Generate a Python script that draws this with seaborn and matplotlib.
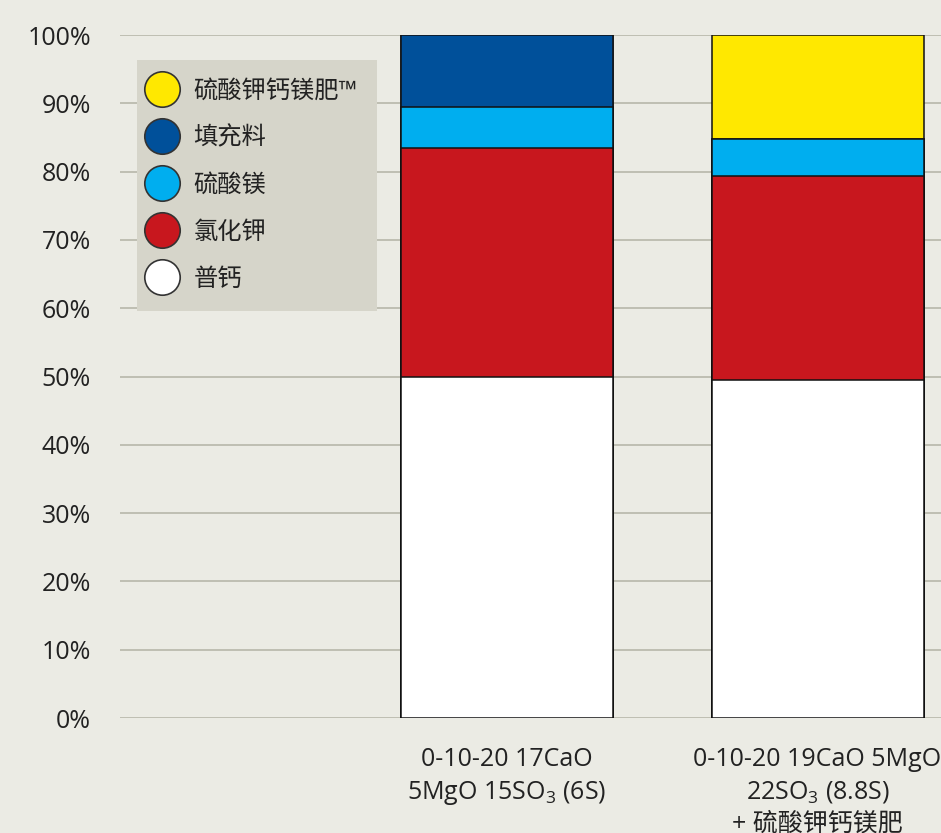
import matplotlib
matplotlib.use("Agg")
import matplotlib.pyplot as plt
from matplotlib.lines import Line2D
import seaborn as sns
import pandas as pd
import numpy as np

# ---- data ----
categories = ["0-10-20 17CaO\n5MgO 15SO$_3$ (6S)",
              "0-10-20 19CaO 5MgO\n22SO$_3$ (8.8S)\n+ 硫酸钾钙镁肥"]
series_names = ["普钙", "氯化钾", "硫酸镁", "填充料", "硫酸钾钙镁肥™"]  # bottom -> top
pugai = [50.0, 49.5]
lvhuajia = [33.4, 29.9]
liusuanmei = [6.1, 5.3]
tianchongliao = [10.5, 0.0]
kmag = [0.0, 15.3]
series_values = [pugai, lvhuajia, liusuanmei, tianchongliao, kmag]
series_colors = ["#FFFFFF", "#C8171E", "#00AEEF", "#00509A", "#FFE800"]
ytick_vals = list(range(0, 101, 10))
ytick_labels = [f"{v}%" for v in ytick_vals]

# ---- style ----
sns.set_theme(style="white")
BG = "#EBEBE4"
plt.rcParams['font.family'] = ['Open Sans', 'Noto Sans CJK SC', 'DejaVu Sans']
plt.rcParams['mathtext.default'] = 'regular'
TXT = "#222222"

fig = plt.figure(figsize=(9.41, 8.33), dpi=100, facecolor=BG)
ax = fig.add_axes([120/941, 115/833, 821/941, 683/833], facecolor=BG)

cum = np.cumsum(np.array(series_values), axis=0)
bar_w = 212/310.5
for i in range(len(series_names) - 1, -1, -1):
    df = pd.DataFrame({"cat": categories, "val": cum[i]})
    sns.barplot(data=df, x="cat", y="val", color=series_colors[i], width=bar_w,
                edgecolor="#111111", linewidth=1.1, saturation=1, ax=ax, zorder=3)

ax.set_ylim(0, 100)
ax.set_xlim(-1.2464, 1.3977)
ax.set_yticks(ytick_vals)
ax.set_yticklabels(ytick_labels)
ax.yaxis.grid(True, color="#BBBBAE", linewidth=1.3)
ax.xaxis.grid(False)
ax.set_axisbelow(True)
for s in ax.spines.values():
    s.set_visible(False)
ax.set_xlabel("")
ax.set_ylabel("")
ax.tick_params(axis="y", length=0, pad=21, labelsize=18, labelcolor=TXT)
ax.tick_params(axis="x", length=0, pad=21, labelsize=18, labelcolor=TXT)
for lab in ax.get_xticklabels():
    lab.set_linespacing(1.35)
    lab.set_ha("center")

# ---- legend ----
order = [4, 3, 2, 1, 0]
handles = [Line2D([], [], marker="o", linestyle="none", markersize=25.5,
                  markerfacecolor=series_colors[i], markeredgecolor="#333333",
                  markeredgewidth=1.2) for i in order]
labels = [series_names[i] for i in order]
leg = ax.legend(handles, labels, loc="upper left",
                bbox_to_anchor=((137-120)/821, (718-60)/683), borderaxespad=0,
                frameon=True, fancybox=False, framealpha=1, facecolor="#D6D5CA",
                edgecolor="none", fontsize=17.5, borderpad=0.8, handlelength=0.45,
                handletextpad=1.07, labelspacing=0.95, labelcolor=TXT)
leg.set_zorder(5)

fig.savefig("out.png", dpi=100, facecolor=BG)
